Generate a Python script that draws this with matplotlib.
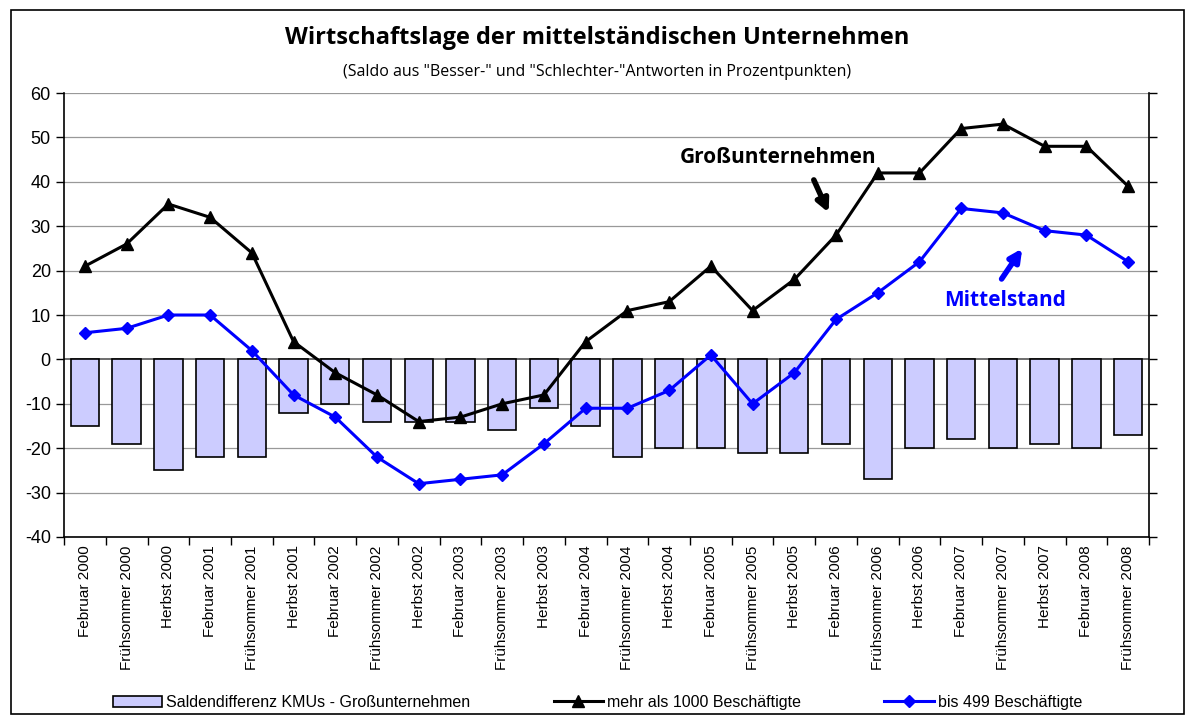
import matplotlib.pyplot as plt
import numpy as np

# Kategorien und Werte
categories = ['Februar 2000', 'Frühsommer 2000', 'Herbst 2000',
              'Februar 2001', 'Frühsommer 2001', 'Herbst 2001',
              'Februar 2002', 'Frühsommer 2002', 'Herbst 2002',
              'Februar 2003', 'Frühsommer 2003', 'Herbst 2003',
              'Februar 2004', 'Frühsommer 2004', 'Herbst 2004',
              'Februar 2005', 'Frühsommer 2005', 'Herbst 2005',
              'Februar 2006', 'Frühsommer 2006', 'Herbst 2006',
              'Februar 2007', 'Frühsommer 2007', 'Herbst 2007',
              'Februar 2008', 'Frühsommer 2008']
gross = [21, 26, 35, 32, 24, 4, -3, -8, -14, -13, -10, -8, 4, 11, 13,
         21, 11, 18, 28, 42, 42, 52, 53, 48, 48, 39]
mittel = [6, 7, 10, 10, 2, -8, -13, -22, -28, -27, -26, -19, -11, -11, -7,
          1, -10, -3, 9, 15, 22, 34, 33, 29, 28, 22]
differenz = [-15, -19, -25, -22, -22, -12, -10, -14, -14, -14, -16, -11, -15,
             -22, -20, -20, -21, -21, -19, -27, -20, -18, -20, -19, -20, -17]
yticks = list(range(-40, 61, 10))

fig = plt.figure(figsize=(11.95, 7.24), dpi=100)
ax = fig.add_axes([0.0536, 0.2583, 0.9079, 0.6132])

x = np.arange(len(categories))

for v in yticks:
    ax.axhline(v, color='#555555' if v == 0 else '#999999', lw=1.2 if v == 0 else 0.9, zorder=0)

b = ax.bar(x, differenz, width=0.68, color='#CCCCFF', edgecolor='black', lw=1.2, zorder=2,
           label='Saldendifferenz KMUs - Großunternehmen')
l1, = ax.plot(x, gross, color='black', lw=2.2, marker='^', ms=8, zorder=3,
              label='mehr als 1000 Beschäftigte')
l2, = ax.plot(x, mittel, color='#0000FF', lw=2.2, marker='D', ms=6, zorder=4,
              label='bis 499 Beschäftigte')

ax.set_xlim(-0.5, len(categories) - 0.5)
ax.set_ylim(-40, 60)
ax.set_yticks(yticks)
ax.set_yticklabels([str(v) for v in yticks], fontsize=13, family='Liberation Sans')
ax.tick_params(axis='y', length=6, width=1, right=True, direction='out')
ax.set_xticks(x)
ax.set_xticklabels(categories, rotation=90, fontsize=11, family='Liberation Sans')
ax.tick_params(axis='x', which='major', length=0, pad=6)
ax.set_xticks(np.arange(-0.5, len(categories), 1), minor=True)
ax.tick_params(axis='x', which='minor', length=6, width=1, direction='out')
for s in ax.spines.values():
    s.set_linewidth(1.2)
ax.spines['top'].set_visible(False)

# Annotationen
ax.text(16.6, 45.5, 'Großunternehmen', ha='center', va='center', fontsize=15,
        fontweight='bold', family='Open Sans')
ax.annotate('', xy=(17.85, 32.5), xytext=(17.44, 41),
            arrowprops=dict(arrowstyle='-|>', color='black', lw=4, mutation_scale=18))
ax.text(22.05, 13.3, 'Mittelstand', ha='center', va='center', fontsize=15,
        fontweight='bold', color='#0000FF', family='Open Sans')
ax.annotate('', xy=(22.5, 25.5), xytext=(21.93, 17.6),
            arrowprops=dict(arrowstyle='-|>', color='#0000FF', lw=4, mutation_scale=18))

fig.text(0.5, 0.947, 'Wirtschaftslage der mittelständischen Unternehmen', ha='center',
         va='center', fontsize=17, fontweight='bold', family='Open Sans')
fig.text(0.5, 0.900, '(Saldo aus "Besser-" und "Schlechter-"Antworten in Prozentpunkten)',
         ha='center', va='center', fontsize=11.5, family='Open Sans')

fig.legend(handles=[b, l1, l2], loc='center', bbox_to_anchor=(0.5, 0.03), ncol=3,
           frameon=False, columnspacing=5.2, handlelength=3.1, handletextpad=0.25,
           prop={'family': 'Liberation Sans', 'size': 11.5})

# Rahmen um die ganze Grafik
fig.patches.append(plt.Rectangle((0.009, 0.014), 0.982, 0.972, transform=fig.transFigure,
                                 fill=False, edgecolor='black', lw=1.2))

fig.savefig('out.png', dpi=100)
